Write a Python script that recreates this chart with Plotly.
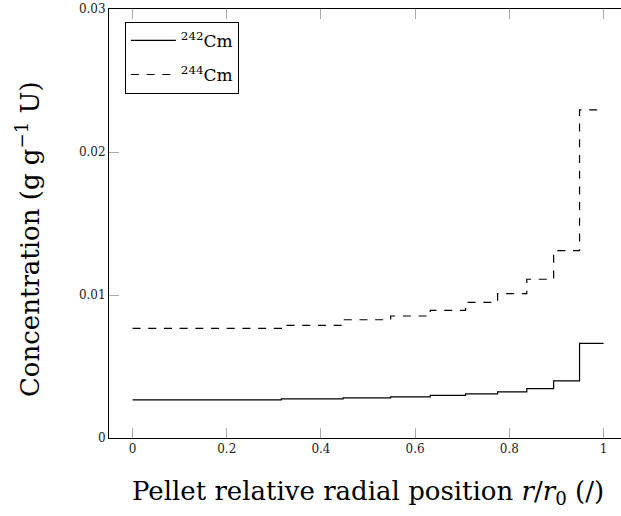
import plotly.graph_objects as go

# Ring boundaries (relative radial position r/r0)
r_edges = [0.0, 0.316, 0.447, 0.548, 0.632, 0.707, 0.775, 0.837, 0.894, 0.949, 1.0]
# Concentration per ring (g/g U)
cm242 = [0.00266, 0.00273, 0.00280, 0.00287, 0.00298, 0.00308, 0.00322, 0.00345, 0.00399, 0.00662]
cm244 = [0.00767, 0.00788, 0.00827, 0.00853, 0.00893, 0.00949, 0.01009, 0.01110, 0.01310, 0.02295]

x_ticks = [0, 0.2, 0.4, 0.6, 0.8, 1]
x_tick_text = ["0", "0.2", "0.4", "0.6", "0.8", "1"]
y_ticks = [0, 0.01, 0.02, 0.03]
y_tick_text = ["0", "0.01", "0.02", "0.03"]

x_title = "Pellet relative radial position <i>r</i>/<i>r</i><sub>0</sub> (/)"
y_title = "Concentration (g g<sup>−1</sup> U)"

fig = go.Figure()
fig.add_trace(go.Scatter(
    x=r_edges, y=cm242 + [cm242[-1]], mode="lines", line_shape="hv",
    line=dict(color="black", width=1.2), name="<sup>242</sup>Cm", legendgroup="a"))
fig.add_trace(go.Scatter(
    x=r_edges, y=cm244 + [cm244[-1]], mode="lines", line_shape="hv",
    line=dict(color="black", width=1.2, dash="8px,7.7px"), name="<sup>244</sup>Cm", legendgroup="b"))

tickfont = dict(family="DejaVu Serif", size=12, color="#222")
titlefont = dict(family="DejaVu Serif", size=26, color="black")
fig.update_layout(
    width=621, height=516,
    margin=dict(l=109, r=0, t=9, b=78),
    paper_bgcolor="white", plot_bgcolor="white",
    showlegend=True,
    legend=dict(x=0.031, y=0.970, xanchor="left", yanchor="top",
                bordercolor="black", borderwidth=1, bgcolor="white",
                font=dict(family="DejaVu Serif", size=17, color="black"),
                tracegroupgap=9, itemwidth=45),
    xaxis=dict(range=[-0.05, 1.037], tickvals=x_ticks, ticktext=x_tick_text,
               ticks="inside", ticklen=10, tickcolor="#aaa", tickwidth=1,
               showline=True, linecolor="black", linewidth=1, mirror="ticks",
               showgrid=False, zeroline=False, tickfont=tickfont),
    yaxis=dict(range=[0, 0.03], tickvals=y_ticks, ticktext=y_tick_text,
               ticks="inside", ticklen=10, tickcolor="#aaa", tickwidth=1,
               showline=True, linecolor="black", linewidth=1,
               showgrid=False, zeroline=False, tickfont=tickfont),
    annotations=[
        dict(text=x_title, xref="paper", yref="paper", x=0.506, y=-0.128,
             xanchor="center", yanchor="middle", showarrow=False, font=titlefont),
        dict(text=y_title, xref="paper", yref="paper", x=-0.158, y=0.464,
             xanchor="center", yanchor="middle", textangle=-90, showarrow=False,
             font=titlefont),
    ],
)
fig.write_html("out.html")
